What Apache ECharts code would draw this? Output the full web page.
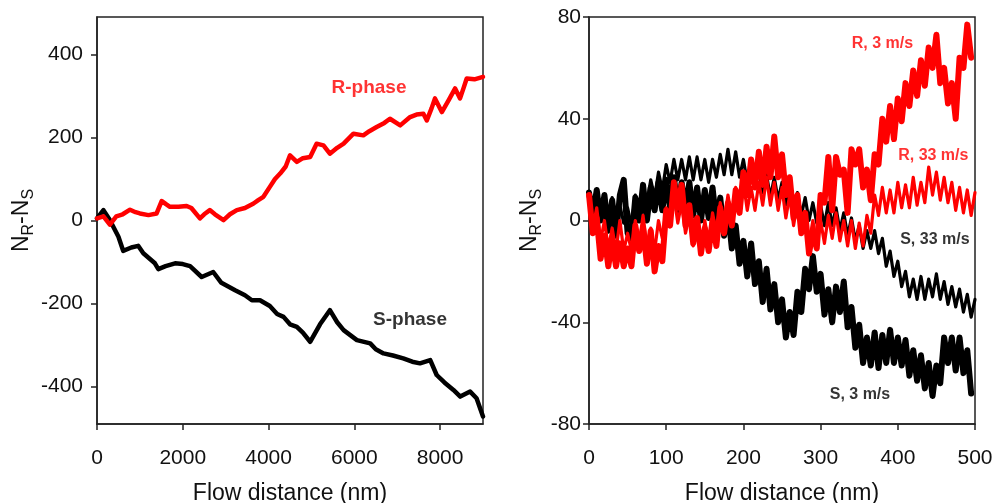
<!DOCTYPE html>
<html>
<head>
<meta charset="utf-8">
<script src="https://cdn.jsdelivr.net/npm/echarts@6/dist/echarts.min.js"></script>
<style>
html,body{margin:0;padding:0;background:#fff;}
#main{width:993px;height:503px;}
</style>
</head>
<body>
<div id="main"></div>
<script>
// ---------- Left panel data (flow distance in nm, N_R - N_S) ----------
const rPhaseX = [0,150,300,450,600,770,900,1000,1200,1390,1510,1600,1700,1900,2090,2200,2400,2500,2630,2750,2950,3100,3260,3450,3650,3760,3880,4030,4150,4270,4400,4500,4660,4800,4970,5120,5280,5430,5600,5750,5980,6210,6350,6520,6700,6830,7070,7300,7450,7610,7690,7800,7880,8040,8200,8350,8465,8550,8620,8800,9000];
const rPhaseY = [5,10,-10,10,15,26,20,17,13,17,47,40,33,33,35,30,5,15,25,15,1,15,25,30,41,49,57,81,100,113,130,157,141,150,153,185,181,161,175,185,209,205,215,225,235,245,229,249,255,257,241,270,294,261,290,318,294,320,342,340,346];
const sPhaseX = [0,150,300,380,500,610,800,960,1080,1350,1430,1600,1820,2000,2170,2440,2710,2900,3220,3450,3610,3800,4030,4200,4350,4500,4660,4800,4970,5200,5430,5600,5750,6060,6370,6500,6680,6900,7140,7350,7530,7770,7920,8100,8310,8470,8700,8850,9000];
const sPhaseY = [5,25,1,-15,-39,-73,-65,-61,-79,-103,-117,-110,-103,-105,-110,-136,-124,-150,-168,-180,-192,-192,-206,-225,-232,-250,-256,-270,-292,-250,-216,-245,-264,-288,-296,-310,-320,-325,-332,-340,-344,-336,-372,-390,-408,-424,-412,-428,-472];
const leftXTicks = [0,2000,4000,6000,8000];
const leftYTicks = [-400,-200,0,200,400];

// ---------- Right panel data ----------
const distR = [0,5,10,15,20,25,30,35,40,45,50,55,60,65,70,75,80,85,90,95,100,105,110,115,120,125,130,135,140,145,150,155,160,165,170,175,180,185,190,195,200,205,210,215,220,225,230,235,240,245,250,255,260,265,270,275,280,285,290,295,300,305,310,315,320,325,330,335,340,345,350,355,360,365,370,375,380,385,390,395,400,405,410,415,420,425,430,435,440,445,450,455,460,465,470,475,480,485,490,495,500];
const s33 = [9,2,12,2,8,0,9,-1,6,-1,5,-2,10,4,14,7,16,9,19,12,22,15,24,16,24,16,25,16,25,16,24,15,24,17,26,18,28,18,27,17,24,15,22,13,20,11,18,9,17,8,15,6,13,4,11,2,9,0,7,-1,6,-2,7,-2,5,-4,3,-6,1,-8,-2,-11,-4,-11,-4,-13,-7,-18,-12,-22,-16,-26,-20,-30,-23,-31,-22,-31,-23,-30,-21,-31,-24,-33,-26,-34,-27,-36,-29,-38,-31];
const r33 = [10,-3,5,-8,0,-11,-3,-12,0,-12,-5,-12,0,-9,2,-10,-3,-12,0,-7,5,-2,10,-1,7,-5,2,-10,-3,-12,0,-9,3,-5,7,-1,10,1,13,4,15,4,13,4,15,6,17,6,15,4,13,1,10,-2,7,-5,3,-9,0,-10,0,-9,2,-7,3,-8,0,-10,0,-11,-1,-10,2,-5,10,2,13,3,12,3,15,5,14,5,17,6,15,7,21,10,19,8,17,7,15,4,13,3,12,2,11];
const s3 = [11,2,12,0,10,-4,8,-6,10,16,-5,-8,9,0,14,0,13,4,15,4,16,5,17,4,15,4,15,2,13,0,12,1,13,-1,9,-6,4,-11,-2,-17,-8,-22,-9,-25,-16,-32,-19,-35,-25,-40,-31,-46,-36,-45,-28,-36,-19,-27,-14,-28,-21,-37,-27,-40,-26,-36,-24,-42,-34,-50,-41,-56,-46,-57,-44,-58,-45,-56,-43,-56,-46,-57,-47,-61,-51,-63,-53,-66,-56,-69,-57,-64,-46,-56,-46,-59,-46,-60,-51,-68];
const r3 = [10,-5,1,-15,-6,-18,-8,-18,-9,-18,-11,-18,-2,-12,-3,-17,-4,-20,-10,-16,4,-2,15,5,14,-2,6,-9,1,-13,-3,-12,0,-10,5,-5,7,-2,12,3,19,10,24,13,27,14,29,17,33,17,26,10,17,1,10,-5,3,-13,-4,-11,10,7,25,4,25,18,20,3,28,22,28,13,20,8,26,22,40,31,45,32,48,39,54,45,59,49,63,53,68,60,73,54,60,46,54,40,64,60,77,64];
const rightXTicks = [0,100,200,300,400,500];
const rightYTicks = [-80,-40,0,40,80];

// ---------- Annotations (data coordinates) ----------
const leftNotes = [
  {name:'R-phase', x:6342, y:320, color:'#ff0000'},
  {name:'S-phase', x:7298, y:-238, color:'#000000'}
];
const rightNotes = [
  {name:'R, 3 m/s', x:380, y:69.5, color:'#ff0000'},
  {name:'R, 33 m/s', x:446, y:25.7, color:'#ff0000'},
  {name:'S, 33 m/s', x:448, y:-7.7, color:'#000000'},
  {name:'S, 3 m/s', x:351, y:-68.6, color:'#000000'}
];

const FONT = 'Liberation Sans, Arial, Helvetica, sans-serif';
const pair = (xs, ys) => ys.map((v, i) => [xs[i], v]);

const yName = '{n|N}{s|R}{n|-N}{s|S}';
const yNameStyle = {
  rich: {
    n: {fontSize: 23, fontFamily: FONT, color: '#111', lineHeight: 30, verticalAlign: 'middle'},
    s: {fontSize: 16, fontFamily: FONT, color: '#111', lineHeight: 16, verticalAlign: 'bottom'}
  }
};

function xAxisCfg(gridIndex, min, max, ticks) {
  return {
    type: 'value', gridIndex, min, max,
    axisLine: {show: true, onZero: false, lineStyle: {color: '#222', width: 1.5}},
    axisTick: {show: true, length: 6, customValues: ticks, lineStyle: {color: '#222', width: 1.5}},
    axisLabel: {customValues: ticks, margin: 24, fontSize: 21, fontFamily: FONT, color: '#111',
                formatter: v => String(v)},
    splitLine: {show: false},
    name: 'Flow distance (nm)', nameLocation: 'middle', nameGap: 58,
    nameTextStyle: {fontSize: 23, fontFamily: FONT, color: '#111'}
  };
}
function yAxisCfg(gridIndex, min, max, ticks, margin, nameGap) {
  return {
    type: 'value', gridIndex, min, max,
    axisLine: {show: true, onZero: false, lineStyle: {color: '#222', width: 1.5}},
    axisTick: {show: true, length: 6, customValues: ticks, lineStyle: {color: '#222', width: 1.5}},
    axisLabel: {customValues: ticks, margin, fontSize: 21, fontFamily: FONT, color: '#111',
                formatter: v => String(v)},
    splitLine: {show: false},
    name: yName, nameLocation: 'middle', nameRotate: 90, nameGap,
    nameTextStyle: yNameStyle
  };
}
function lineSeries(xi, yi, data, color, width) {
  return {
    type: 'line', xAxisIndex: xi, yAxisIndex: yi, data,
    showSymbol: false, symbol: 'none', animation: false,
    lineStyle: {color, width, join: 'round', cap: 'round'}
  };
}
function noteSeries(xi, yi, notes, size) {
  return {
    type: 'scatter', xAxisIndex: xi, yAxisIndex: yi, symbolSize: 2, z: 10, animation: false,
    itemStyle: {color: 'rgba(0,0,0,0)'},
    label: {show: true, position: 'inside', formatter: '{b}', fontSize: size,
            fontWeight: 'bold', fontFamily: FONT, textBorderWidth: 0},
    data: notes.map(n => ({
      name: n.name, value: [n.x, n.y],
      label: {color: n.color}
    }))
  };
}

const option = {
  backgroundColor: '#fff',
  animation: false,
  grid: [
    {left: 97, top: 17, width: 386, height: 407, show: true, borderColor: '#222', borderWidth: 1.5,
     containLabel: false, outerBoundsMode: 'none'},
    {left: 589, top: 17, width: 386, height: 407, show: true, borderColor: '#222', borderWidth: 1.5,
     containLabel: false, outerBoundsMode: 'none'}
  ],
  xAxis: [
    xAxisCfg(0, 0, 9000, leftXTicks),
    xAxisCfg(1, 0, 500, rightXTicks)
  ],
  yAxis: [
    yAxisCfg(0, -490, 490, leftYTicks, 14, 55),
    yAxisCfg(1, -80, 80, rightYTicks, 8, 44)
  ],
  series: [
    lineSeries(0, 0, pair(sPhaseX, sPhaseY), '#000000', 4.5),
    lineSeries(0, 0, pair(rPhaseX, rPhaseY), '#ff0000', 4.5),
    lineSeries(1, 1, pair(distR, s3), '#000000', 6),
    lineSeries(1, 1, pair(distR, s33), '#000000', 3.2),
    lineSeries(1, 1, pair(distR, r33), '#ff0000', 3.2),
    lineSeries(1, 1, pair(distR, r3), '#ff0000', 6),
    noteSeries(0, 0, leftNotes, 19),
    noteSeries(1, 1, rightNotes, 16)
  ]
};

const chart = echarts.init(document.getElementById('main'), null, {renderer: 'canvas'});
chart.setOption(option);
</script>
</body>
</html>
